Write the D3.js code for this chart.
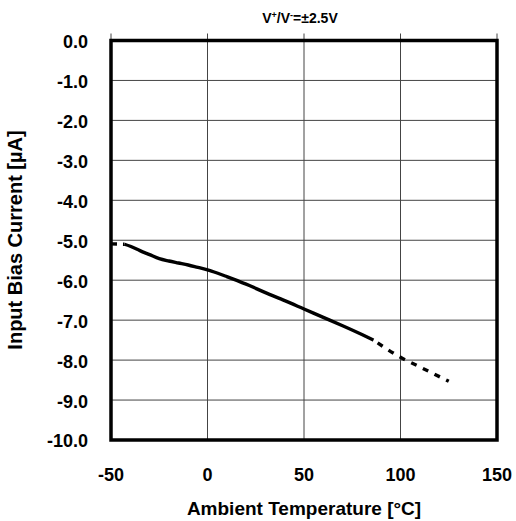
<!DOCTYPE html>
<html>
<head>
<meta charset="utf-8">
<style>
  body { margin: 0; background: #fff; }
  text { font-family: "Liberation Sans", Arial, sans-serif; font-weight: bold; fill: #000; }
</style>
</head>
<body>
<svg width="516" height="521"></svg>
<script src="https://d3js.org/d3.v7.min.js"></script>
<script>
  // measured part (solid line)
  var tempSolid = [-43, -40, -35, -30, -25, -20, -15, -10, -5, 0, 5, 10, 20, 30, 40, 50, 60, 70, 80, 86];
  var currSolid = [-5.10, -5.15, -5.26, -5.36, -5.46, -5.52, -5.57, -5.62, -5.68, -5.74, -5.82, -5.91, -6.10, -6.31, -6.51, -6.72, -6.93, -7.14, -7.36, -7.50];
  // extrapolated parts (dashed line)
  var tempLow = [-50, -43];
  var currLow = [-5.09, -5.10];
  var tempHigh = [86, 100, 110, 125];
  var currHigh = [-7.50, -7.93, -8.17, -8.53];

  var xTicks = [-50, 0, 50, 100, 150];
  var yTicks = [0, -1, -2, -3, -4, -5, -6, -7, -8, -9, -10];

  var svg = d3.select("svg");
  var plot = {left: 111, right: 497, top: 40.5, bottom: 440};

  var x = d3.scaleLinear().domain([-50, 150]).range([plot.left, plot.right]);
  var y = d3.scaleLinear().domain([-10, 0]).range([plot.bottom, plot.top]);

  // grid
  svg.append("g").selectAll("line")
    .data(xTicks)
    .enter().append("line")
    .attr("x1", d => x(d)).attr("x2", d => x(d))
    .attr("y1", plot.top - 7).attr("y2", plot.bottom)
    .attr("stroke", "#444").attr("stroke-width", 1);

  svg.append("g").selectAll("line")
    .data(yTicks)
    .enter().append("line")
    .attr("x1", plot.left).attr("x2", plot.right)
    .attr("y1", d => y(d)).attr("y2", d => y(d))
    .attr("stroke", "#444").attr("stroke-width", 1);

  // frame
  svg.append("rect")
    .attr("x", plot.left).attr("y", plot.top)
    .attr("width", plot.right - plot.left).attr("height", plot.bottom - plot.top)
    .attr("fill", "none").attr("stroke", "#000").attr("stroke-width", 3.5);

  // tick labels (plain hyphen for the minus, like the original)
  var fmt = d => d3.format(".1f")(d).replace("−", "-");

  svg.append("g").selectAll("text")
    .data(yTicks)
    .enter().append("text")
    .attr("x", 88).attr("y", d => y(d) + 1)
    .attr("dy", "0.36em")
    .attr("text-anchor", "end")
    .attr("font-size", 18)
    .text(fmt);

  svg.append("g").selectAll("text")
    .data(xTicks)
    .enter().append("text")
    .attr("x", d => x(d)).attr("y", 481)
    .attr("text-anchor", "middle")
    .attr("font-size", 18)
    .text(d => String(d));

  // curve
  var line = d3.line()
    .x(d => x(d[0])).y(d => y(d[1]))
    .curve(d3.curveMonotoneX);

  var g = svg.append("g").attr("fill", "none").attr("stroke", "#000").attr("stroke-width", 3.4);
  g.append("path").datum(d3.zip(tempSolid, currSolid)).attr("d", line);
  g.append("path").datum(d3.zip(tempLow, currLow)).attr("d", line)
    .attr("stroke-dasharray", "6,6");
  g.append("path").datum(d3.zip(tempHigh, currHigh)).attr("d", line)
    .attr("stroke-dasharray", "6,7").attr("stroke-dashoffset", 8);

  // titles
  var t = svg.append("text")
    .attr("x", 300).attr("y", 23)
    .attr("text-anchor", "middle")
    .attr("font-size", 14);
  t.append("tspan").text("V");
  t.append("tspan").attr("baseline-shift", "super").attr("font-size", 9).text("+");
  t.append("tspan").text("/V");
  t.append("tspan").attr("baseline-shift", "super").attr("font-size", 9).text("-");
  t.append("tspan").text("=±2.5V");

  svg.append("text")
    .attr("x", 304).attr("y", 515)
    .attr("text-anchor", "middle")
    .attr("font-size", 19)
    .text("Ambient Temperature [°C]");

  svg.append("text")
    .attr("transform", "translate(22,240) rotate(-90)")
    .attr("text-anchor", "middle")
    .attr("font-size", 20)
    .text("Input Bias Current [µA]");
</script>
</body>
</html>
